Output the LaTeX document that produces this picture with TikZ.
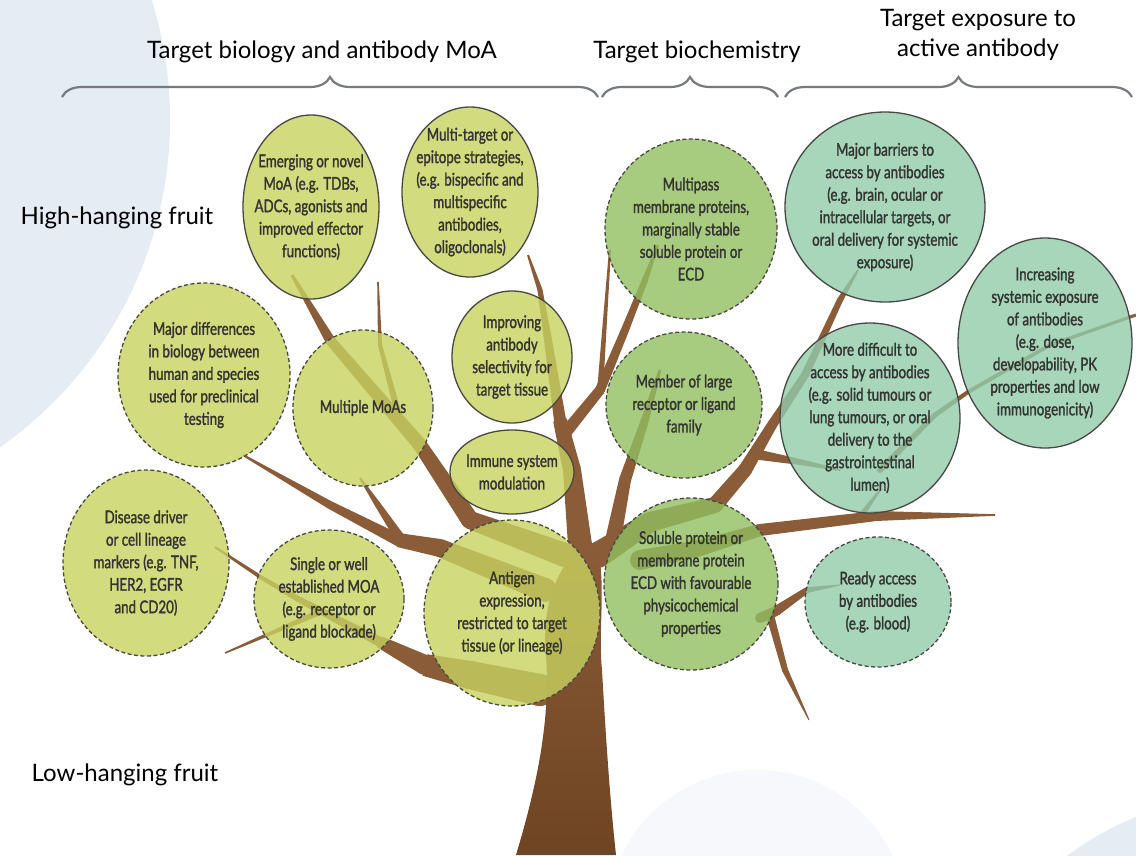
\documentclass[tikz,border=0pt]{standalone}
\usepackage{fontspec}
\setmainfont{Lato}
\newfontfamily\fruitfont[FakeStretch=0.76,FakeBold=1.5]{Lato}
\usepackage{tikz}
\usetikzlibrary{shapes.geometric,calc,decorations.pathreplacing}

\definecolor{barkbrown}{RGB}{138,92,56}
\definecolor{barkdark}{RGB}{110,68,34}
\definecolor{olivefruit}{RGB}{200,210,96}
\definecolor{leaffruit}{RGB}{146,191,96}
\definecolor{seafruit}{RGB}{146,204,171}
\definecolor{rimgray}{RGB}{72,72,68}
\definecolor{skyback}{RGB}{229,236,244}
\definecolor{skypale}{RGB}{246,248,251}
\definecolor{bracegray}{RGB}{118,122,128}
\definecolor{fruitink}{RGB}{52,52,48}

\newcommand\seg[4]{%
	\fill[barkbrown] ($(#1)!#3pt!90:(#2)$) -- ($(#2)!#4pt!-90:(#1)$) -- ($(#2)!#4pt!90:(#1)$) -- ($(#1)!#3pt!-90:(#2)$) -- cycle;
	\fill[barkbrown] (#1) circle (#3pt);
}

\tikzset{
	fruit/.style={ellipse, draw=rimgray, line width=1.3pt, fill opacity=0.8, inner sep=0pt},
	fruittext/.style={align=center, font=\fruitfont\fontsize{17.5}{22.5}\selectfont, text=fruitink, fill opacity=1, text opacity=1},
	dashrim/.style={dash pattern=on 4pt off 2.5pt},
	olive/.style={fruit, fill=olivefruit},
	leaf/.style={fruit, fill=leaffruit},
	sea/.style={fruit, fill=seafruit},
	head/.style={font=\fontsize{24}{30}\selectfont, align=center},
	grouping/.style={decorate, decoration={brace, amplitude=20pt}, draw=bracegray, line width=2.2pt},
}

\begin{document}
\begin{tikzpicture}[x=1pt,y=-1pt]
	\clip (0,0) rectangle (1136,855);
	\fill[white] (0,0) rectangle (1136,855);
	\fill[skyback] (-230,120) circle (400pt);
	\fill[skypale] (757,920) circle (150pt);
	\fill[skyback] (1250,1100) circle (305pt);

	\node[head] (biology) at (322,52) {Target biology and antibody MoA};
	\node[head] (biochem) at (697,52) {Target biochemistry};
	\node[head] (exposure) at (978,35) {Target exposure to\\active antibody};
	\node[head] (high) at (117,218) {High-hanging fruit};
	\node[head] (low) at (125,775) {Low-hanging fruit};

	\coordinate (bioL) at (62,97);
	\coordinate (bioR) at (598,97);
	\coordinate (chemL) at (602,97);
	\coordinate (chemR) at (778,97);
	\coordinate (expL) at (785,97);
	\coordinate (expR) at (1132,97);
	\draw[grouping] (bioL) -- (bioR);
	\draw[grouping] (chemL) -- (chemR);
	\draw[grouping] (expL) -- (expR);

	\seg{565,555}{470,520}{12}{9}
	\seg{470,520}{420,445}{9}{7}
	\seg{420,445}{330,340}{7}{5}
	\seg{330,340}{292,275}{5}{1.5}
	\seg{400,420}{380,345}{3.5}{2}
	\seg{380,345}{378,282}{2}{0.8}
	\seg{545,590}{440,548}{12}{9}
	\seg{440,548}{398,540}{9}{7}
	\seg{398,540}{330,505}{6}{4}
	\seg{330,505}{243,455}{4}{1}
	\seg{400,538}{378,505}{5}{3}
	\seg{378,505}{360,478}{3}{1}
	\seg{540,690}{470,675}{16}{14}
	\seg{470,675}{425,665}{14}{11}
	\seg{425,665}{380,642}{10}{6}
	\seg{380,642}{300,600}{5}{3}
	\seg{300,600}{262,578}{3}{2}
	\seg{262,578}{215,547}{2}{1}
	\seg{320,612}{225,653}{3}{0.8}

	\seg{580,545}{572,470}{12}{9}
	\seg{572,470}{560,420}{9}{7}
	\seg{560,420}{548,340}{6}{4}
	\seg{548,340}{540,290}{4}{2.5}
	\seg{540,290}{528,255}{2.5}{1}
	\seg{566,432}{600,390}{6}{5}
	\seg{600,390}{625,330}{5}{4}
	\seg{625,330}{645,280}{4}{3}
	\seg{645,280}{658,245}{3}{1}
	\seg{600,392}{605,320}{3}{2}
	\seg{605,320}{610,250}{2}{1}

	\seg{598,555}{650,522}{13}{10}
	\seg{650,522}{715,505}{10}{8}
	\seg{715,505}{745,470}{8}{7}
	\seg{745,470}{772,425}{7}{5}
	\seg{772,425}{805,375}{5}{4}
	\seg{805,375}{840,300}{4}{3}
	\seg{840,300}{858,270}{3}{1}
	\seg{760,455}{800,462}{5}{3}
	\seg{800,462}{840,470}{3}{1}
	\seg{640,560}{700,548}{10}{8}
	\seg{700,548}{760,530}{8}{6}
	\seg{760,530}{876,516}{6}{5}
	\seg{876,516}{995,515}{5}{0.8}
	\seg{860,517}{880,490}{3}{1}
	\seg{880,470}{935,415}{3}{2.5}
	\seg{935,415}{968,392}{2.5}{2}
	\seg{968,392}{1050,345}{2}{1.8}
	\seg{1050,345}{1136,315}{1.8}{1.5}
	\seg{760,618}{776,611}{5}{5}
	\seg{776,611}{807,590}{5}{3}
	\seg{807,590}{840,585}{3}{0.5}
	\seg{770,615}{785,670}{4}{3}
	\seg{785,670}{809,720}{3}{0.5}
	\seg{612,545}{625,480}{8}{6}
	\seg{625,480}{645,420}{6}{4}
	\seg{645,420}{660,370}{4}{1.5}

	\shade[top color=barkbrown, bottom color=barkdark] (516,855) .. controls (540,775) and (550,715) .. (546,655) .. controls (543,620) and (548,590) .. (568,560) -- (598,548) .. controls (606,590) and (598,630) .. (602,670) .. controls (606,740) and (610,800) .. (616,855) -- cycle;

	\node[olive, minimum width=136pt, minimum height=184pt, label={[fruittext]center:{Emerging or novel\\MoA (e.g. TDBs,\\ADCs, agonists and\\improved effector\\functions)}}] (emerging) at (311,207) {};
	\node[olive, minimum width=136pt, minimum height=170pt, label={[fruittext]center:{Multi-target or\\epitope strategies,\\(e.g. bispecific and\\multispecific\\antibodies,\\oligoclonals)}}] (multitarget) at (470,192) {};
	\node[leaf, dashrim, minimum width=172pt, minimum height=180pt, label={[fruittext]center:{Multipass\\membrane proteins,\\marginally stable\\soluble protein or\\ECD}}] (multipass) at (691,229) {};
	\node[sea, minimum width=200pt, minimum height=190pt, label={[fruittext]center:{Major barriers to\\access by antibodies\\(e.g. brain, ocular or\\intracellular targets, or\\oral delivery for systemic\\exposure)}}] (barriers) at (885,207) {};
	\node[sea, minimum width=174pt, minimum height=210pt, label={[fruittext]center:{Increasing\\systemic exposure\\of antibodies\\(e.g. dose,\\developability, PK\\properties and low\\immunogenicity)}}] (increasing) at (1045,343) {};
	\node[olive, dashrim, minimum width=172pt, minimum height=184pt, label={[fruittext]center:{Major differences\\in biology between\\human and species\\used for preclinical\\testing}}] (differences) at (204,375) {};
	\node[olive, dashrim, minimum width=140pt, minimum height=156pt, label={[fruittext]center:{Multiple MoAs}}] (multiple) at (363,408) {};
	\node[olive, minimum width=120pt, minimum height=132pt, label={[fruittext]center:{Improving\\antibody\\selectivity for\\target tissue}}] (improving) at (512,357) {};
	\node[olive, minimum width=124pt, minimum height=84pt, label={[fruittext]center:{Immune system\\modulation}}] (immune) at (512,472) {};
	\node[leaf, dashrim, minimum width=156pt, minimum height=146pt, label={[fruittext]center:{Member of large\\receptor or ligand\\family}}] (member) at (684,405) {};
	\node[sea, minimum width=180pt, minimum height=190pt, label={[fruittext]center:{More difficult to\\access by antibodies\\(e.g. solid tumours or\\lung tumours, or oral\\delivery to the\\gastrointestinal\\lumen)}}] (difficult) at (870,418) {};
	\node[olive, dashrim, minimum width=166pt, minimum height=186pt, label={[fruittext]center:{Disease driver\\or cell lineage\\markers (e.g. TNF,\\HER2, EGFR\\and CD20)}}] (disease) at (146,563) {};
	\node[olive, dashrim, minimum width=150pt, minimum height=138pt, label={[fruittext]center:{Single or well\\established MOA\\(e.g. receptor or\\ligand blockade)}}] (single) at (329,599) {};
	\node[olive, dashrim, minimum width=176pt, minimum height=186pt, label={[fruittext]center:{Antigen\\expression,\\restricted to target\\tissue (or lineage)}}] (antigen) at (512,613) {};
	\node[leaf, dashrim, minimum width=174pt, minimum height=172pt, label={[fruittext]center:{Soluble protein or\\membrane protein\\ECD with favourable\\physicochemical\\properties}}] (soluble) at (691,584) {};
	\node[sea, dashrim, minimum width=146pt, minimum height=130pt, label={[fruittext]center:{Ready access\\by antibodies\\(e.g. blood)}}] (ready) at (878,602) {};
\end{tikzpicture}
\end{document}
